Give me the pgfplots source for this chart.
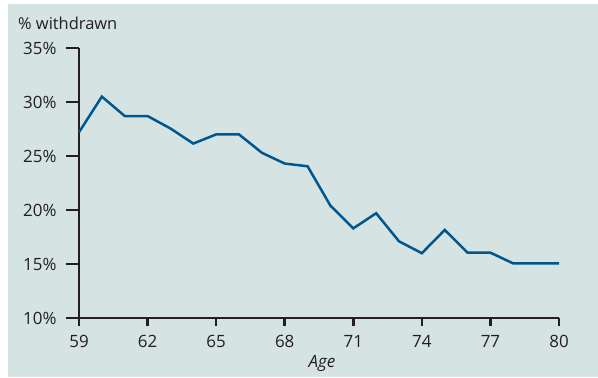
\documentclass[border=0pt]{standalone}
\usepackage{pgfplots}
\pgfplotsset{compat=1.18}
\usepackage{fontspec}
\setmainfont{Open Sans}
\definecolor{bg}{HTML}{D6E3E3}
\definecolor{axc}{HTML}{231F20}
\definecolor{lineblue}{HTML}{00578F}
\begin{document}
\begin{tikzpicture}[x=1bp,y=1bp]
\useasboundingbox (0,0) rectangle (598,377);
\fill[bg] (8,0) rectangle (598,373);
\node[anchor=base west, font=\fontsize{16.5}{18}\selectfont, text=axc, inner sep=0pt] at (18,348) {\% withdrawn};
\begin{axis}[
  at={(79bp,59bp)}, anchor=south west,
  scale only axis, width=480bp, height=270bp,
  xmin=59, xmax=80, ymin=10, ymax=35,
  axis x line=bottom, axis y line=left,
  axis line style={line width=2.6bp, color=axc, -},
  every tick/.style={line width=2.6bp, color=axc},
  tick align=outside,
  xtick={59,62,65,68,71,74,77,80},
  ytick={10,15,20,25,30,35},
  major tick length=13bp,
  xtick style={/pgfplots/major tick length=8bp},
  minor tick num=0,
  yticklabel={\pgfmathprintnumber{\tick}\%},
  /pgf/number format/assume math mode=true,
  tick label style={font=\fontsize{17}{19}\selectfont, text=axc},
  xticklabel style={yshift=-1bp},
  yticklabel style={xshift=-6bp},
  xlabel={\itshape Age},
  xlabel style={at={(axis description cs:0.5,0)}, anchor=north, yshift=-34bp, xshift=3bp, font=\fontsize{17}{19}\selectfont, text=axc},
  clip=false,
]
\addplot[color=lineblue, line width=2.5bp] coordinates {
(59,27.2) (60,30.5) (61,28.7) (62,28.7) (63,27.55) (64,26.15) (65,27.0) (66,27.0)
(67,25.3) (68,24.3) (69,24.05) (70,20.4) (71,18.3) (72,19.7) (73,17.1) (74,16.0)
(75,18.15) (76,16.05) (77,16.05) (78,15.05) (79,15.05) (80,15.05)
};
\end{axis}
\end{tikzpicture}
\end{document}
